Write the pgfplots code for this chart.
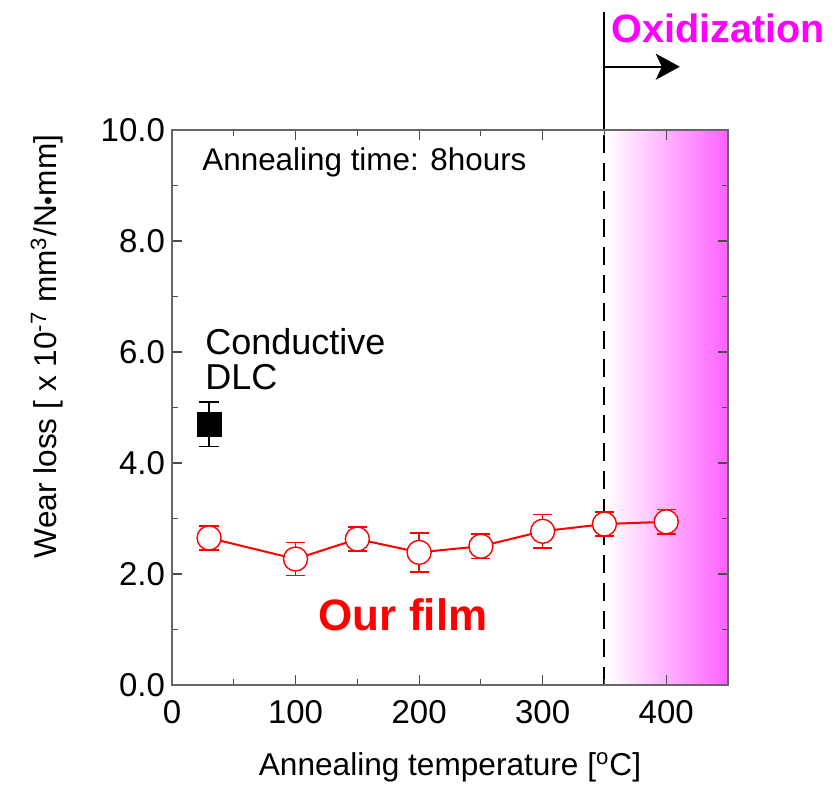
\documentclass[border=0pt]{standalone}
\usepackage{fontspec}
\setmainfont{Liberation Sans}
\usepackage{pgfplots}
\pgfplotsset{compat=1.18}
\usetikzlibrary{arrows.meta}
\definecolor{oxi}{RGB}{255,0,255}
\begin{document}
\begin{tikzpicture}
\begin{axis}[
  width=278pt, height=277.5pt, scale only axis,
  xmin=0, xmax=450, ymin=0, ymax=10,
  xtick={0,100,...,400}, minor xtick={50,150,...,450},
  ytick={0,2,...,10}, minor ytick={1,3,...,9},
  tick align=inside, major tick length=5pt, minor tick length=3pt,
  yticklabel style={/pgf/number format/.cd, fixed, fixed zerofill, precision=1},
  xticklabel style={yshift=-4pt},
  /pgf/number format/assume math mode=true,
  tick label style={font=\fontsize{16.5}{18}\selectfont},
  xlabel={Annealing temperature [\textsuperscript{o}C]},
  ylabel={Wear loss [ x 10\textsuperscript{-7} mm\textsuperscript{3}/N\scalebox{0.8}{\textbullet}mm]},
  xlabel style={font=\fontsize{15.8}{18}\selectfont, at={(axis description cs:0.5,0)}, anchor=center, yshift=-41pt},
  ylabel style={font=\fontsize{15.8}{18}\selectfont, at={(axis description cs:0,0.61)}, anchor=center, yshift=62.5pt},
  axis line style={draw=black!60, line width=0.8pt},
  tick style={black!70, line width=0.6pt},
  clip=false, axis on top,
]
% oxidization region
\fill[left color=white, right color=magenta!62] (axis cs:352,0) rectangle (axis cs:450,10);
\draw[line width=1pt, dash pattern=on 9pt off 5pt] (axis cs:350,0) -- (axis cs:350,10);
\draw[line width=1pt] (axis cs:350,10) -- (axis cs:350,12.13);
\draw[line width=1pt, -{Stealth[length=12pt, width=13pt, inset=3pt]}] (axis cs:350,11.14) -- (axis cs:411,11.14);
\node[text=oxi, font=\fontsize{19.8}{22}\selectfont\bfseries] at (axis cs:442,11.84) {Oxidization};

% our film
\addplot[red, line width=1pt, mark=none,
  error bars/.cd, y dir=both, y explicit,
  error bar style={red, line width=0.8pt},
  error mark options={rotate=90, red, mark size=4.8pt, line width=0.8pt}]
  table[x=x, y=y, y error=e] {
x y e
30 2.65 0.22
100 2.27 0.30
150 2.63 0.22
200 2.39 0.35
250 2.50 0.22
300 2.77 0.30
350 2.90 0.22
400 2.94 0.22
};
\addplot[only marks, mark=*, mark size=6pt, mark options={draw=red, fill=white, line width=0.7pt}]
  table {
30 2.65
100 2.27
150 2.63
200 2.39
250 2.50
300 2.77
350 2.90
400 2.94
};

% conductive DLC
\addplot[black, only marks, mark=square*, mark size=6pt,
  error bars/.cd, y dir=both, y explicit,
  error bar style={black, line width=0.8pt},
  error mark options={rotate=90, black, mark size=4.8pt, line width=0.8pt}]
  coordinates {(30,4.70) +- (0,0.40)};

\node[anchor=west, inner sep=0, font=\fontsize{15.7}{18}\selectfont] at (axis cs:24.3,9.41) {Annealing time: 8hours};
\node[anchor=base west, inner sep=0, font=\fontsize{18}{20}\selectfont] at (axis cs:26.7,5.95) {Conductive};
\node[anchor=base west, inner sep=0, font=\fontsize{18}{20}\selectfont] at (axis cs:26.7,5.32) {DLC};
\node[text=red, font=\fontsize{22}{24}\selectfont\bfseries] at (axis cs:187,1.26) {Our film};
\end{axis}
\pgfresetboundingbox
\path ([shift={(-86pt,-50.5pt)}]current axis.south west) rectangle ([shift={(53.5pt,65pt)}]current axis.north east);
\end{tikzpicture}
\end{document}
